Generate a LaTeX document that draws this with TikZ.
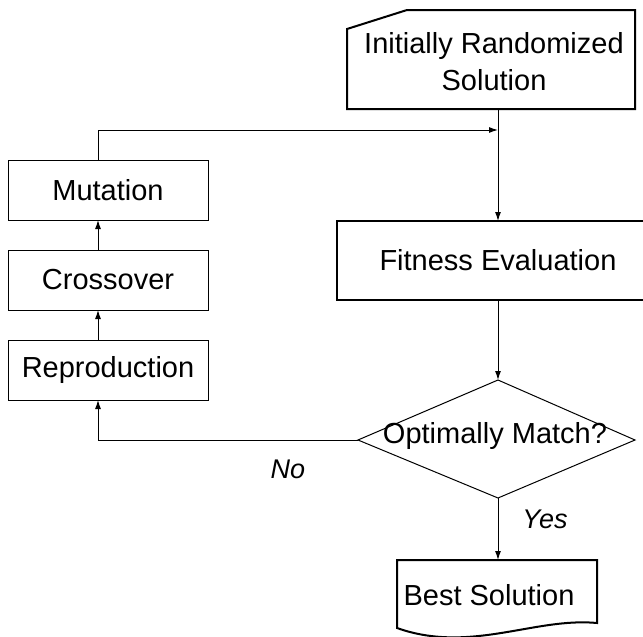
\documentclass[tikz,border=0pt]{standalone}
\usepackage{fontspec}
\setmainfont{Liberation Sans}
\usetikzlibrary{arrows.meta}
\begin{document}
\begin{tikzpicture}[x=1pt,y=-1pt,
  txt/.style={font=\fontsize{29}{37}\selectfont, align=center, inner sep=0pt},
  lbl/.style={font=\fontsize{27}{32}\selectfont\itshape, inner sep=0pt},
  sbox/.style={draw, line width=1pt, minimum width=200pt, minimum height=60pt, inner sep=0pt, font=\fontsize{29}{37}\selectfont},
  conn/.style={line width=1pt, -{Latex[length=9pt,width=6pt]}},
  plain/.style={line width=1pt}]
\useasboundingbox (0,0) rectangle (643,637);
\clip (0,0) rectangle (643,637);
% Initially Randomized Solution (card shape)
\draw[line width=2pt] (347,29) -- (407,10) -- (635,10) -- (635,109) -- (347,109) -- cycle;
\node[txt] (init) at (494,62) {Initially Randomized\\Solution};
\coordinate (initS) at (498,109);
% Fitness Evaluation (runs past the right edge)
\node[minimum width=322pt, minimum height=79pt, inner sep=0pt, outer sep=0pt, font=\fontsize{29}{37}\selectfont] (fit) at (498,260.5) {Fitness Evaluation};
\draw[line width=1.5pt] (660,221) -- (337,221) -- (337,300) -- (660,300);
% decision diamond
\coordinate (dT) at (498,380);
\coordinate (dL) at (358,440);
\coordinate (dR) at (635,440);
\coordinate (dB) at (498,498);
\draw[line width=1pt] (dT) -- (dR) -- (dB) -- (dL) -- cycle;
\node[txt] (dec) at (495,436) {Optimally Match?};
% Best Solution (document shape)
\draw[line width=2pt] (397,560) -- (597,560) -- (597,623) .. controls (535,617) and (470,654) .. (397,628) -- cycle;
\node[txt] (best) at (489,595) {Best Solution};
\coordinate (bestN) at (498,560);
% left boxes
\node[sbox] (mut) at (108,190) {Mutation};
\node[sbox] (cro) at (108,280) {Crossover};
\node[sbox] (rep) at (108,370) {Reproduction};
\coordinate (mutN) at (98,160);
\coordinate (mutS) at (98,220);
\coordinate (croN) at (98,250);
\coordinate (croS) at (98,310);
\coordinate (repN) at (98,340);
\coordinate (repS) at (98,400);
\coordinate (join) at (498,130);
% connectors
\draw[plain] (initS) -- (join);
\draw[conn] (join) -- (fit.north);
\draw[conn] (fit.south) -- (dT);
\draw[conn] (dL) -- (98,440) -- (repS);
\draw[conn] (repN) -- (croS);
\draw[conn] (croN) -- (mutS);
\draw[conn] (mutN) -- (98,130) -- (join);
\draw[conn] (dB) -- (bestN);
\node[lbl] (no) at (288,469) {No};
\node[lbl] (yes) at (545,519) {Yes};
\end{tikzpicture}
\end{document}
